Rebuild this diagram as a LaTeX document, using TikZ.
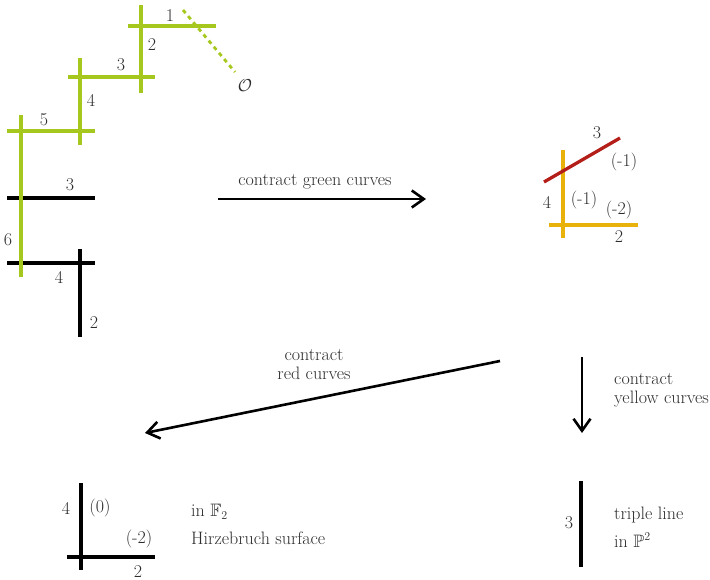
\documentclass[tikz,border=0pt]{standalone}
\usepackage{amsmath,amssymb}
\usetikzlibrary{arrows.meta}
\definecolor{grn}{RGB}{166,200,30}
\definecolor{ylw}{RGB}{232,178,10}
\definecolor{rdd}{RGB}{180,30,25}
\definecolor{txtc}{RGB}{45,45,45}
\tikzset{
  curve/.style={line width=3.3pt},
  gcurve/.style={curve,grn},
  bcurve/.style={curve,black},
  ycurve/.style={curve,ylw},
  rcurve/.style={curve,rdd},
  lbl/.style={inner sep=0pt,text=txtc,font=\fontsize{18}{19}\selectfont},
  txt/.style={inner sep=0pt,anchor=west,text=txtc,font=\fontsize{18}{19}\selectfont,align=left},
  mapar/.style={line width=2.6pt,-{Straight Barb[length=12pt,width=17pt,line width=2.6pt]}}
}
\begin{document}
\begin{tikzpicture}[x=1pt,y=-1pt]
\useasboundingbox (0,0) rectangle (710,580);
% green chain
\coordinate (v1t) at (141,5);  \coordinate (v1b) at (141,93);
\coordinate (h1l) at (128,26); \coordinate (h1r) at (216,26);
\coordinate (h2l) at (68,77);  \coordinate (h2r) at (155,77);
\coordinate (v2t) at (80,58);  \coordinate (v2b) at (80,145);
\coordinate (h3l) at (7,131);  \coordinate (h3r) at (95,131);
\coordinate (v3t) at (21,115); \coordinate (v3b) at (21,277);
\coordinate (dA) at (183,10);  \coordinate (dB) at (235,72);
\draw[gcurve] (v1t) -- (v1b);
\draw[gcurve] (h1l) -- (h1r);
\draw[gcurve] (h2l) -- (h2r);
\draw[gcurve] (v2t) -- (v2b);
\draw[gcurve] (h3l) -- (h3r);
\draw[grn,line width=2.8pt,dash pattern=on 4pt off 4pt] (dA) -- (dB);
% black curves
\coordinate (b1l) at (7,198);  \coordinate (b1r) at (95,198);
\coordinate (b2l) at (7,263);  \coordinate (b2r) at (95,263);
\coordinate (b3t) at (80,249); \coordinate (b3b) at (80,337);
\draw[bcurve] (b1l) -- (b1r);
\draw[bcurve] (b2l) -- (b2r);
\draw[bcurve] (b3t) -- (b3b);
\draw[gcurve] (v3t) -- (v3b);
\node[lbl] (l1) at (170,16) {1};
\node[lbl] (lO) at (245,86) {$\mathcal{O}$};
\node[lbl] (l2) at (152,45) {2};
\node[lbl] (l3) at (121,65) {3};
\node[lbl] (l4) at (91,100) {4};
\node[lbl] (l5) at (44,120) {5};
\node[lbl] (l6) at (8,240) {6};
\node[lbl] (lb3) at (70,185) {3};
\node[lbl] (lb4) at (59,277) {4};
\node[lbl] (lb2) at (94,323) {2};
% arrow 1
\coordinate (a1s) at (218,199); \coordinate (a1e) at (426,199);
\draw[mapar] (a1s) -- (a1e);
\node[lbl] (ta1) at (315,182) {contract green curves};
% top right
\coordinate (yvt) at (563,150); \coordinate (yvb) at (563,238);
\coordinate (yhl) at (549,225); \coordinate (yhr) at (638,225);
\coordinate (rl) at (544,182);  \coordinate (rr) at (620,138);
\draw[ycurve] (yvt) -- (yvb);
\draw[ycurve] (yhl) -- (yhr);
\draw[rcurve] (rl) -- (rr);
\node[lbl] (tr3) at (597,133) {3};
\node[lbl] (trm1a) at (624,162) {(-1)};
\node[lbl] (tr4) at (547,202) {4};
\node[lbl] (trm1b) at (584,200) {(-1)};
\node[lbl] (trm2) at (619,210) {(-2)};
\node[lbl] (tr2) at (619,237) {2};
% arrow red
\coordinate (a2s) at (500,361); \coordinate (a2e) at (145,433);
\draw[mapar] (a2s) -- (a2e);
\node[lbl,align=center] (ta2) at (314,365) {contract\\red curves};
% arrow yellow
\coordinate (a3s) at (582,357); \coordinate (a3e) at (582,433);
\draw[mapar] (a3s) -- (a3e);
\node[txt] (ta3) at (614,390) {contract\\yellow curves};
% bottom left
\coordinate (flvt) at (81,483); \coordinate (flvb) at (81,570);
\coordinate (flhl) at (67,557); \coordinate (flhr) at (155,557);
\draw[bcurve] (flvt) -- (flvb);
\draw[bcurve] (flhl) -- (flhr);
\node[lbl] (f4) at (66,508) {4};
\node[lbl] (f0) at (100,508) {(0)};
\node[lbl] (fm2) at (139,539) {(-2)};
\node[lbl] (f2) at (138,572) {2};
\node[txt] (ft1) at (191,512) {in $\mathbb{F}_2$};
\node[txt] (ft2) at (191,538) {Hirzebruch surface};
% bottom right
\coordinate (pvt) at (581,481); \coordinate (pvb) at (581,567);
\draw[bcurve] (pvt) -- (pvb);
\node[lbl] (p3) at (569,523) {3};
\node[txt] (pt1) at (614,515) {triple line};
\node[txt] (pt2) at (614,540) {in $\mathbb{P}^2$};
\end{tikzpicture}
\end{document}
